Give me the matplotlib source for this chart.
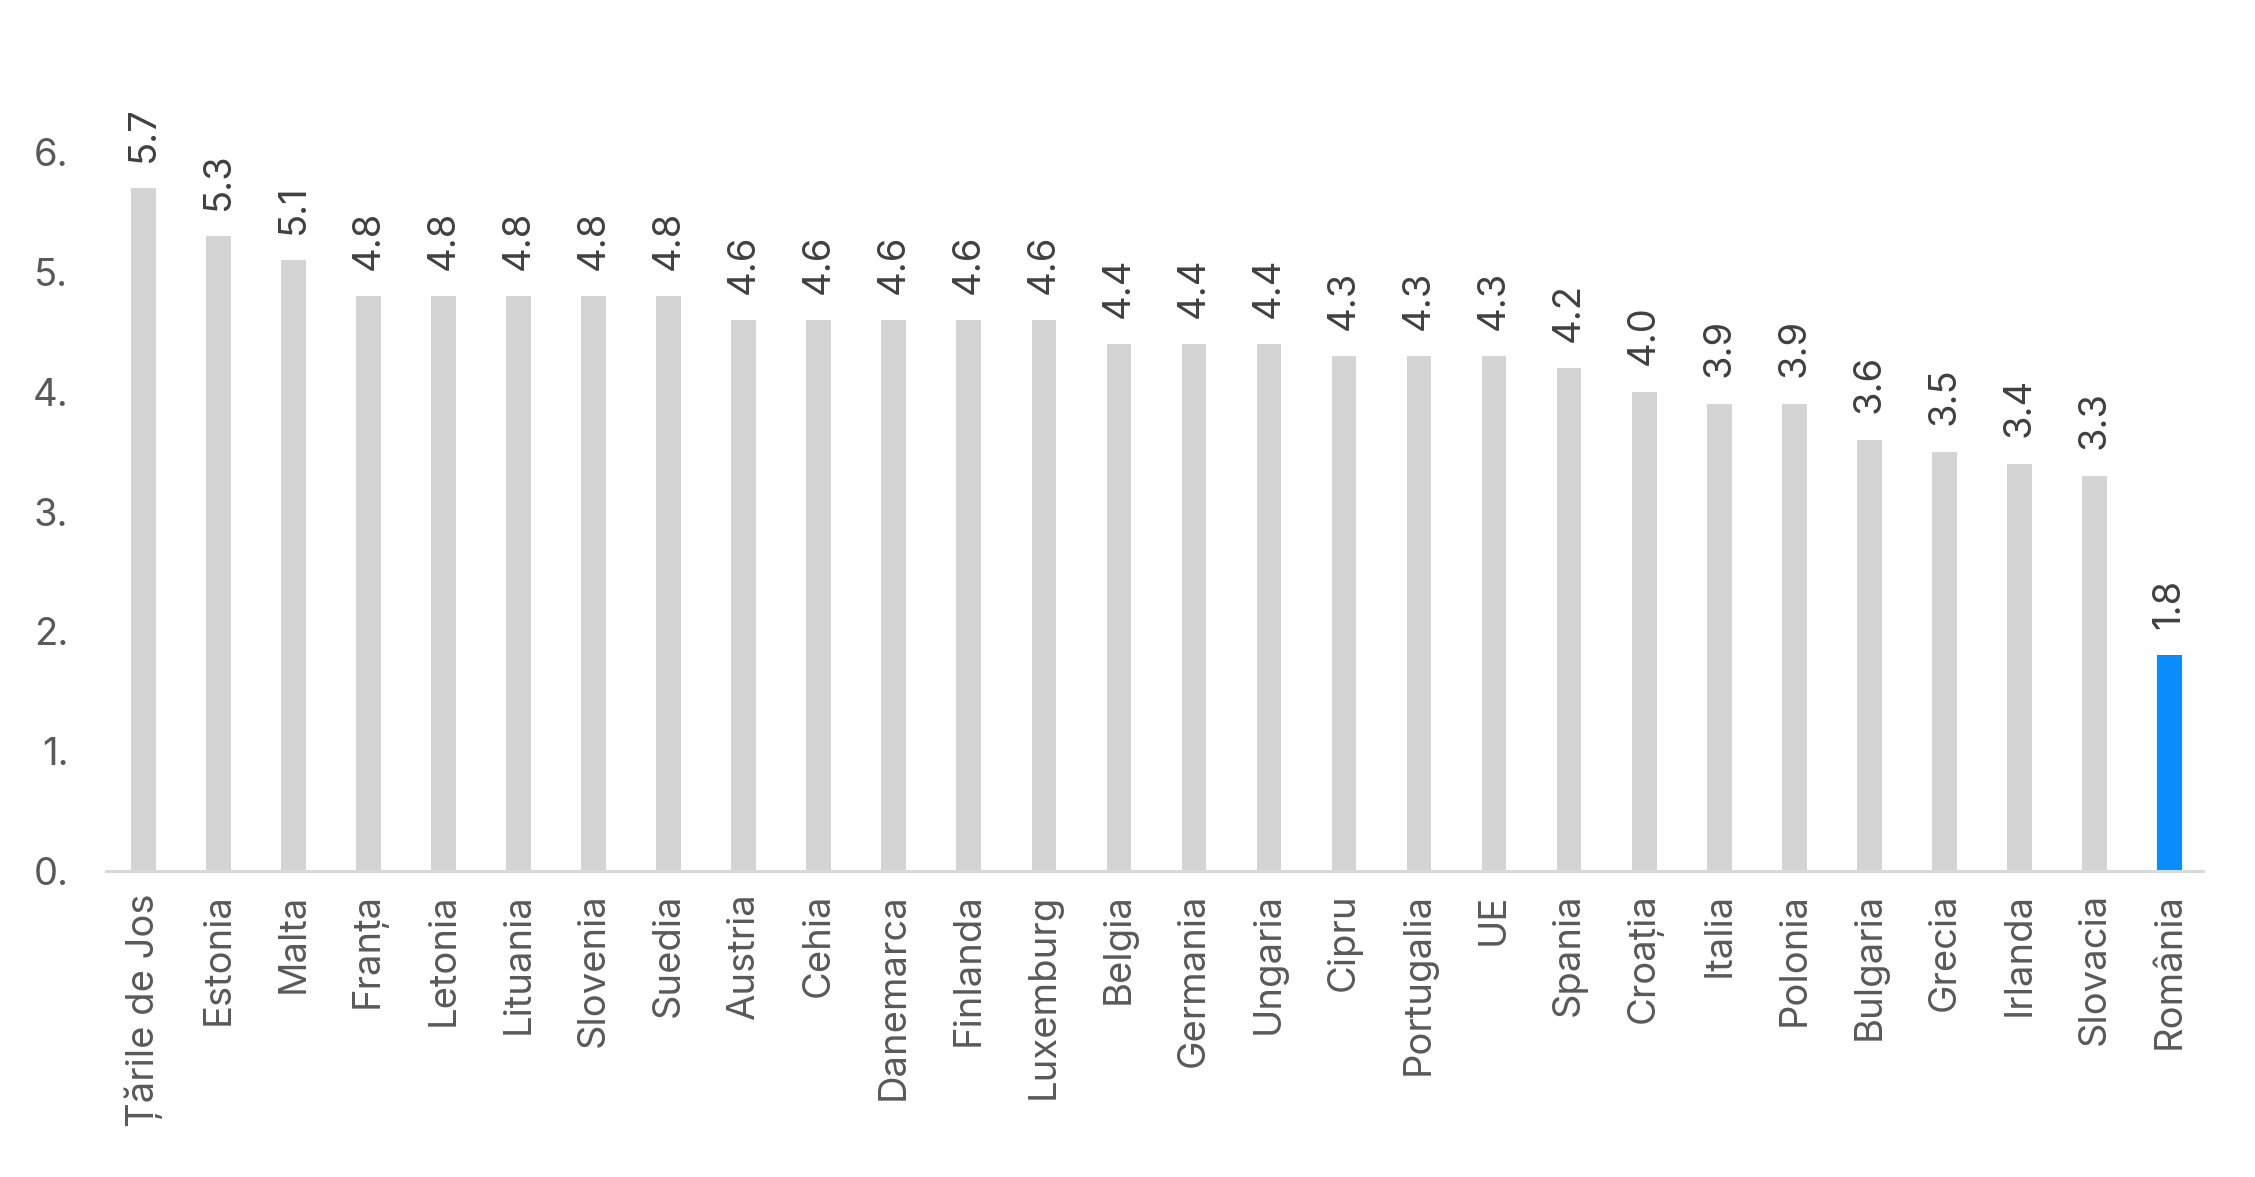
import matplotlib.pyplot as plt
from matplotlib.ticker import FuncFormatter

plt.rcParams['font.family'] = ['Inter', 'DejaVu Sans']

# data
countries = ['Țările de Jos', 'Estonia', 'Malta', 'Franța', 'Letonia', 'Lituania',
             'Slovenia', 'Suedia', 'Austria', 'Cehia', 'Danemarca', 'Finlanda',
             'Luxemburg', 'Belgia', 'Germania', 'Ungaria', 'Cipru', 'Portugalia',
             'UE', 'Spania', 'Croația', 'Italia', 'Polonia', 'Bulgaria', 'Grecia',
             'Irlanda', 'Slovacia', 'România']
values = [5.7, 5.3, 5.1, 4.8, 4.8, 4.8, 4.8, 4.8, 4.6, 4.6, 4.6, 4.6, 4.6,
          4.4, 4.4, 4.4, 4.3, 4.3, 4.3, 4.2, 4.0, 3.9, 3.9, 3.6, 3.5, 3.4, 3.3, 1.8]
highlight = 'România'

gray = '#d4d4d4'
blue = '#0a8cff'
colors = [blue if c == highlight else gray for c in countries]

fig = plt.figure(figsize=(22.55, 11.77), dpi=100)
ax = fig.add_axes([0.047, 0.260, 0.930, 0.692])

x = range(len(countries))
ax.bar(x, values, width=0.33, color=colors, zorder=2)

for i, v in enumerate(values):
    ax.annotate(f'{v:.1f}', (i, v), xytext=(0, 19), textcoords='offset points',
                rotation=90, ha='center', va='bottom', fontsize=27.5, color='#404040')

ax.set_xlim(-0.5, 27.45)
ax.set_ylim(0, 6.8)
ax.set_yticks([0, 1, 2, 3, 4, 5, 6])
ax.yaxis.set_major_formatter(FuncFormatter(lambda v, p: f'{int(v)}.'))
ax.set_xticks(list(x))
ax.set_xticklabels(countries, rotation=90, ha='center', va='top')

ax.tick_params(axis='both', length=0, labelsize=27.5, labelcolor='#595959')
ax.tick_params(axis='x', pad=16)
ax.tick_params(axis='y', pad=27)

for s in ['top', 'right', 'left']:
    ax.spines[s].set_visible(False)
ax.spines['bottom'].set_color('#d9d9d9')
ax.spines['bottom'].set_linewidth(2.2)

plt.savefig('out.png', dpi=100)
